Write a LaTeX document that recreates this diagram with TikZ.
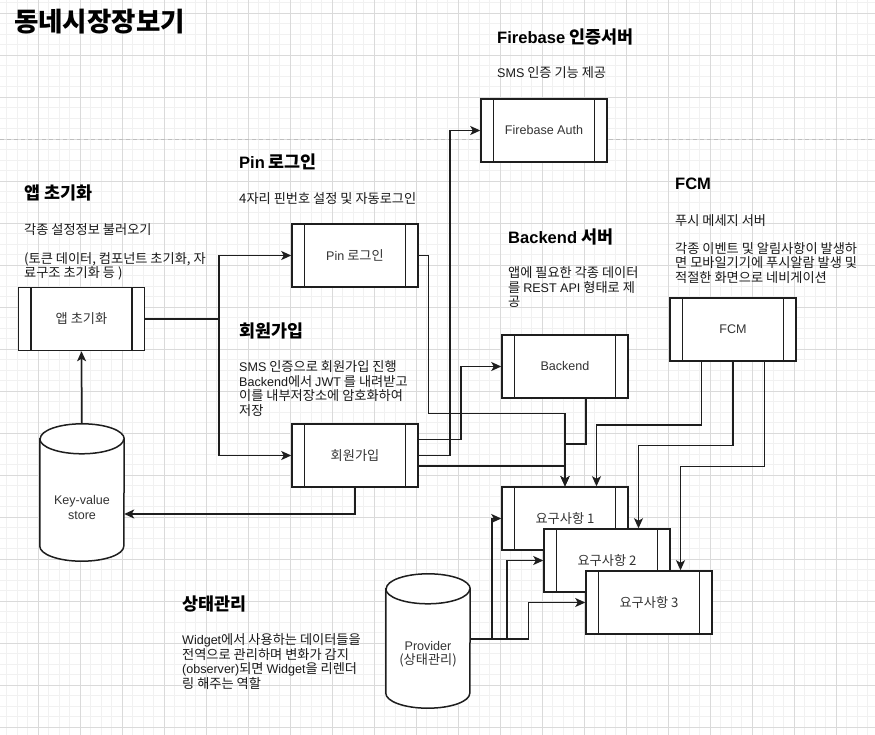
\documentclass[tikz,border=0pt]{standalone}
\usepackage{fontspec}
\setmainfont{Noto Sans CJK KR}
\newfontfamily\lat[Scale=0.95]{Liberation Sans}
\usetikzlibrary{arrows.meta,calc}
\definecolor{gridminor}{RGB}{241,241,241}
\definecolor{gridmajor}{RGB}{218,218,218}
\definecolor{dashc}{RGB}{190,190,190}
\definecolor{ln}{RGB}{30,30,30}
\definecolor{lbl}{RGB}{51,51,51}
\newcommand\bodyfnt{\fontsize{13.2}{14.5}\selectfont}
\newcommand\titlefnt{\fontsize{17.4}{19}\selectfont\bfseries}
\tikzset{
  procbox/.style={draw=ln, line width=1.5pt, fill=white, minimum width=126pt,
    minimum height=63pt, inner sep=0pt, font=\bodyfnt, text=lbl,
    path picture={\draw[ln, line width=1.5pt]
      ([xshift=12.6pt]path picture bounding box.north west) -- ([xshift=12.6pt]path picture bounding box.south west)
      ([xshift=-12.6pt]path picture bounding box.north east) -- ([xshift=-12.6pt]path picture bounding box.south east);}},
  cylbox/.style={draw=none, minimum width=84pt, inner sep=0pt},
  cyllabel/.style={align=center, inner sep=0pt, font=\bodyfnt, text=lbl},
  conn/.style={draw=ln, line width=1.5pt},
  arr/.style={conn, -{Stealth[length=10pt,width=9pt,inset=2.5pt]}},
  ttl/.style={anchor=base west, inner sep=0pt, font=\titlefnt, text=black},
  desc/.style={anchor=base west, inner sep=0pt, align=left, font=\bodyfnt, text=black!90},
}
\newcommand\cylshape[1]{%
  \draw[ln, line width=1.5pt, fill=white]
    ($(#1.north west)+(0,-15)$) -- ($(#1.south west)+(0,15)$)
    arc[start angle=180, end angle=360, x radius=42pt, y radius=15pt]
    -- ($(#1.north east)+(0,-15)$)
    arc[start angle=0, end angle=180, x radius=42pt, y radius=15pt] -- cycle;
  \draw[ln, line width=1.5pt] ($(#1.north west)+(0,-15)$)
    arc[start angle=180, end angle=360, x radius=42pt, y radius=15pt];}
\begin{document}
\begin{tikzpicture}[x=1pt,y=1pt]
\useasboundingbox (0,0) rectangle (875,-735);
\fill[white] (0,0) rectangle (875,-735);
% grid
\foreach \i in {0,...,82} {\draw[gridminor, line width=0.8pt] (6.8+10.5*\i,0) -- (6.8+10.5*\i,-735);}
\foreach \j in {0,...,69} {\draw[gridminor, line width=0.8pt] (0,-2.5-10.5*\j) -- (875,-2.5-10.5*\j);}
\foreach \i in {0,...,19} {\draw[gridmajor, line width=0.8pt] (38.3+42*\i,0) -- (38.3+42*\i,-735);}
\foreach \j in {0,...,17} {\draw[gridmajor, line width=0.8pt] (0,-13-42*\j) -- (875,-13-42*\j);}
% dashed separator
\coordinate (sepL) at (0,-140);
\coordinate (sepR) at (875,-140);
\draw[dashc, line width=1pt, dash pattern=on 4pt off 3pt] (sepL) -- (sepR);

% texts (multi-line nodes are anchored at the baseline of their last line)
\node[anchor=base west, inner sep=0pt, font=\fontsize{26.5}{30}\selectfont\bfseries] (maintitle) at (14,-32) {동네시장장보기};
\node[ttl] (t-app) at (24,-200) {앱 초기화};
\node[desc] (d-app1) at (24,-234.5) {각종 설정정보 불러오기};
\node[desc] (d-app2) at (24,-278) {(토큰 데이터, 컴포넌트 초기화, 자\\료구조 초기화 등 )};
\node[ttl] (t-pin) at (239,-169) {{\lat Pin} 로그인};
\node[desc] (d-pin) at (239,-203.5) {4자리 핀번호 설정 및 자동로그인};
\node[ttl] (t-join) at (239,-337) {회원가입};
\node[desc] (d-join) at (239,-415) {{\lat SMS} 인증으로 회원가입 진행\\{\lat Backend}에서 {\lat JWT} 를 내려받고\\이를 내부저장소에 암호화하여\\저장};
\node[ttl] (t-fb) at (497,-43.5) {{\lat Firebase} 인증서버};
\node[desc] (d-fb) at (497,-77.5) {{\lat SMS} 인증 기능 제공};
\node[ttl] (t-back) at (508,-243.5) {{\lat Backend} 서버};
\node[desc] (d-back) at (508,-306.5) {앱에 필요한 각종 데이터\\를 {\lat REST API} 형태로 제\\공};
\node[ttl] (t-fcm) at (675,-190) {\lat FCM};
\node[desc] (d-fcm1) at (675,-225.5) {푸시 메세지 서버};
\node[desc] (d-fcm2) at (675,-282.5) {각종 이벤트 및 알림사항이 발생하\\면 모바일기기에 푸시알람 발생 및\\적절한 화면으로 네비게이션};
\node[ttl] (t-state) at (182,-610) {상태관리};
\node[desc] (d-state) at (182,-688) {{\lat Widget}에서 사용하는 데이터들을\\전역으로 관리하며 변화가 감지\\{\lat (observer)}되면 {\lat Widget}을 리렌더\\링 해주는 역할};

% boxes
\node[procbox] (fb) at (544,-130.5) {\lat Firebase Auth};
\node[procbox] (app) at (81.5,-319) {앱 초기화};
\node[procbox] (pin) at (355,-255.5) {{\lat Pin} 로그인};
\node[procbox] (join) at (355,-455.5) {회원가입};
\node[procbox] (back) at (565,-366.5) {\lat Backend};
\node[procbox] (fcm) at (733,-329.5) {\lat FCM};
\node[procbox] (r1) at (565,-518.5) {요구사항 1};
\node[procbox] (r2) at (607,-560.5) {요구사항 2};
\node[procbox] (r3) at (649,-602.5) {요구사항 3};

% cylinders
\node[cylbox, minimum height=137pt] (kv) at (82,-492.5) {};
\cylshape{kv}
\node[cyllabel, font=\bodyfnt\lat] (kv-lbl) at (82,-507.5) {Key-value\\store};
\node[cylbox, minimum height=134pt] (prov) at (428,-641) {};
\cylshape{prov}
\node[cyllabel] (prov-lbl) at (428,-654) {{\lat Provider}\\(상태관리)};

% connectors
\draw[arr] (kv.north) -- (app.south);
\draw[arr] (app.east) -- ++(73.5,0) |- (pin.west);
\draw[arr] (app.east) -- ++(73.5,0) |- (join.west);
\draw[arr] (join.south) |- ([yshift=-21.5pt]kv.east);
\draw[arr] (pin.east) -| (428.3,-413.3) -| (r1.north);
\draw[arr] ([yshift=16.2pt]join.east) -- ++(42,0) |- (back.west);
\draw[arr] (join.east) -- ++(31.3,0) |- (fb.west);
\draw[arr] ([yshift=-10.5pt]join.east) -| (r1.north);
\draw[arr] ([xshift=21pt]back.south) -- ++(0,-45.3) -| (r1.north);
\draw[arr] ([xshift=-31.5pt]fcm.south) -- ++(0,-63) -| ([xshift=31.5pt]r1.north);
\draw[arr] (fcm.south) -- ++(0,-83.7) -| ([xshift=31.5pt]r2.north);
\draw[arr] ([xshift=31.5pt]fcm.south) -- ++(0,-104.7) -| ([xshift=31.5pt]r3.north);
\draw[arr] ([yshift=2pt]prov.east) -- ++(21.7,0) |- (r1.west);
\draw[arr] ([yshift=2pt]prov.east) -- ++(37,0) |- (r2.west);
\draw[arr] ([yshift=2pt]prov.east) -- ++(58.3,0) |- (r3.west);
\end{tikzpicture}
\end{document}
